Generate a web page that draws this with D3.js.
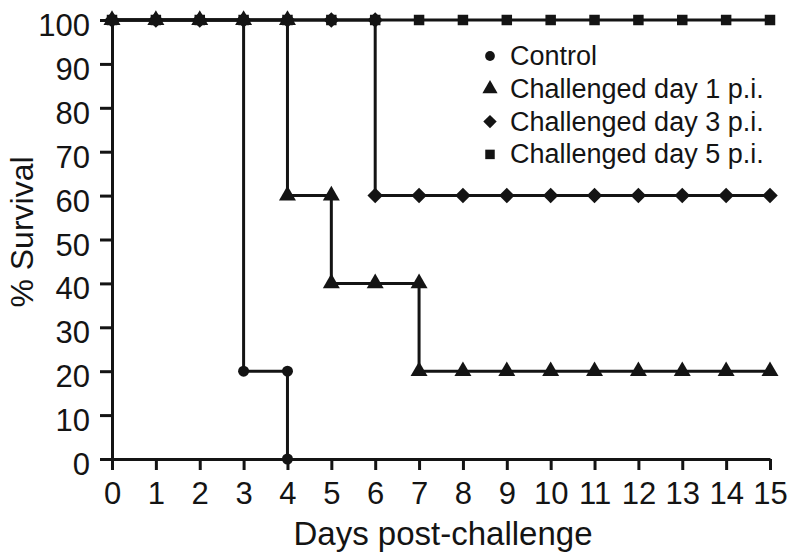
<!DOCTYPE html>
<html>
<head>
<meta charset="utf-8">
<script src="https://cdn.jsdelivr.net/npm/d3@7"></script>
<style>
  body { margin: 0; background: #fff; }
  svg { display: block; font-family: "Liberation Sans", Arial, sans-serif; }
</style>
</head>
<body>
<div id="chart"></div>
<script>
// survival points, [day, % survival], in drawing order
var control = [[0,100],[1,100],[2,100],[3,100],[3,20],[4,20],[4,0]];
var day1 = [[0,100],[1,100],[2,100],[3,100],[4,100],[4,60],[5,60],[5,40],[6,40],[7,40],[7,20],
            [8,20],[9,20],[10,20],[11,20],[12,20],[13,20],[14,20],[15,20]];
var day3 = [[0,100],[1,100],[2,100],[3,100],[4,100],[5,100],[6,100],[6,60],[7,60],[8,60],
            [9,60],[10,60],[11,60],[12,60],[13,60],[14,60],[15,60]];
var day5 = [[0,100],[1,100],[2,100],[3,100],[4,100],[5,100],[6,100],[7,100],[8,100],
            [9,100],[10,100],[11,100],[12,100],[13,100],[14,100],[15,100]];

var xTicks = [0,1,2,3,4,5,6,7,8,9,10,11,12,13,14,15];
var yTicks = [0,10,20,30,40,50,60,70,80,90,100];
var legendNames = ["Control", "Challenged day 1 p.i.", "Challenged day 3 p.i.", "Challenged day 5 p.i."];

var width = 800, height = 559;
var ink = "#141414";

var x = d3.scaleLinear().domain([0, 15]).range([112, 770]);
var y = d3.scaleLinear().domain([0, 100]).range([459, 20]);

// square turned 45 degrees (d3's own diamond is too narrow)
var diamond = {
    draw: function(ctx, size) {
        var r = Math.sqrt(size / 2);
        ctx.moveTo(0, -r);
        ctx.lineTo(r, 0);
        ctx.lineTo(0, r);
        ctx.lineTo(-r, 0);
        ctx.closePath();
    }
};

var svg = d3.select("#chart").append("svg")
    .attr("width", width)
    .attr("height", height);

// axes
var yAxis = svg.append("g")
    .attr("transform", `translate(${x(0)},0)`)
    .call(d3.axisLeft(y).tickValues(yTicks).tickSize(12).tickSizeOuter(0).tickPadding(10));
var xAxis = svg.append("g")
    .attr("transform", `translate(0,${y(0)})`)
    .call(d3.axisBottom(x).tickValues(xTicks).tickSize(11).tickSizeOuter(0).tickPadding(12));

[xAxis, yAxis].forEach(function(g) {
    g.select(".domain").attr("stroke", ink).attr("stroke-width", 3);
    g.selectAll(".tick line").attr("stroke", ink).attr("stroke-width", 3);
    g.selectAll(".tick text")
        .attr("fill", ink)
        .style("font-family", "'Liberation Sans', Arial, sans-serif")
        .style("font-size", "31px");
});
yAxis.selectAll(".tick text").attr("dy", "0.5em");
xAxis.selectAll(".tick text").attr("dy", "0.72em");

// axis titles
svg.append("text")
    .attr("x", 443)
    .attr("y", 545)
    .attr("text-anchor", "middle")
    .attr("fill", ink)
    .style("font-size", "33px")
    .text("Days post-challenge");

svg.append("text")
    .attr("transform", "translate(33,232) rotate(-90)")
    .attr("text-anchor", "middle")
    .attr("fill", ink)
    .style("font-size", "32px")
    .text("% Survival");

// lines
var line = d3.line().x(d => x(d[0])).y(d => y(d[1]));
var series = [day5, day3, control, day1];
var shapes = [d3.symbolSquare, diamond, d3.symbolCircle, d3.symbolTriangle];
var sizes = [110, 120, 95, 125];

series.forEach(function(s) {
    svg.append("path")
        .attr("d", line(s))
        .attr("fill", "none")
        .attr("stroke", ink)
        .attr("stroke-width", 3);
});

series.forEach(function(s, i) {
    svg.append("g")
        .selectAll("path")
        .data(s)
        .join("path")
            .attr("transform", d => `translate(${x(d[0])},${y(d[1])})`)
            .attr("d", d3.symbol().type(shapes[i]).size(sizes[i]))
            .attr("fill", ink);
});

// legend
var legendShapes = [d3.symbolCircle, d3.symbolTriangle, diamond, d3.symbolSquare];
var legendSizes = [75, 100, 90, 90];
var legend = svg.append("g")
    .selectAll("g")
    .data(legendNames)
    .join("g")
        .attr("transform", (d, i) => `translate(490,${56 + i * 32.8})`);

legend.append("path")
    .attr("d", (d, i) => d3.symbol().type(legendShapes[i]).size(legendSizes[i])())
    .attr("fill", ink);

legend.append("text")
    .attr("x", 20)
    .attr("y", 9)
    .attr("fill", ink)
    .style("font-size", "27px")
    .text(d => d);
</script>
</body>
</html>
